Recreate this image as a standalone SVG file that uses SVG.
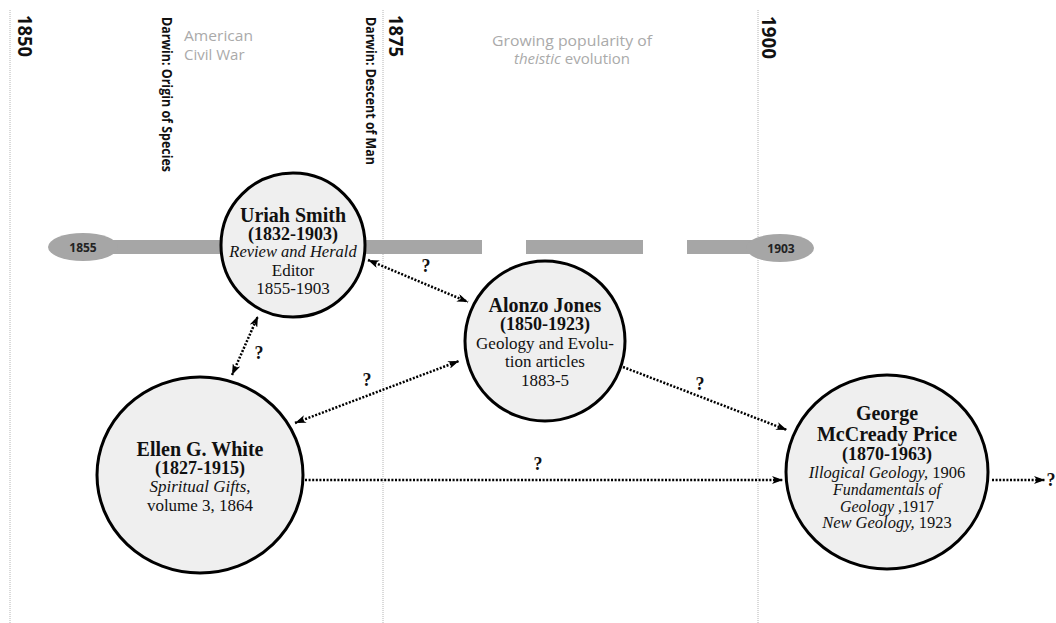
<svg xmlns="http://www.w3.org/2000/svg" width="1056" height="623" viewBox="0 0 1056 623">
<style>
.grid{stroke:#b4b4b4;stroke-width:1;stroke-dasharray:1 1;fill:none}
.yr{font-family:"Open Sans",Lato,"Liberation Sans",sans-serif;font-weight:bold;font-size:20px;fill:#111}
.dw{font-family:"Open Sans",Lato,"Liberation Sans",sans-serif;font-weight:bold;font-size:14px;fill:#111}
.era{font-family:"Open Sans",Lato,"Liberation Sans",sans-serif;font-size:15px;fill:#aaaaaa}
.bar{fill:#a6a6a6}
.tl{font-family:"Open Sans",Lato,"Liberation Sans",sans-serif;font-weight:bold;font-size:12px;fill:#222;text-anchor:middle}
.node{fill:#efefef;stroke:#000;stroke-width:3}
.t{font-family:"Liberation Serif",serif;fill:#111;text-anchor:middle;font-size:17px}
.b{font-weight:bold;font-size:18px}
.h{font-size:20px;font-weight:bold}
.i{font-style:italic}
.s{font-size:16.5px}
.c{stroke:#000;stroke-width:2.5;stroke-dasharray:2 1.6;fill:none}
.q{font-family:"Liberation Serif",serif;font-weight:bold;font-size:18px;fill:#111;text-anchor:middle}
</style>
<defs>
<marker id="ah" markerUnits="userSpaceOnUse" markerWidth="12" markerHeight="8" refX="11" refY="4" orient="auto-start-reverse" viewBox="0 0 12 8">
<path d="M0,0 L11,4 L0,8 L3,4 z" fill="#000"/>
</marker>
</defs>
<rect width="1056" height="623" fill="#fff"/>

<g id="grid">
<line class="grid" x1="10" y1="10" x2="10" y2="623"/>
<line class="grid" x1="383" y1="10" x2="383" y2="623"/>
<line class="grid" x1="758" y1="10" x2="758" y2="623"/>
<text class="yr" transform="translate(18,15) rotate(90)" textLength="42" lengthAdjust="spacingAndGlyphs">1850</text>
<text class="yr" transform="translate(389,15) rotate(90)" textLength="42" lengthAdjust="spacingAndGlyphs">1875</text>
<text class="yr" transform="translate(762,16) rotate(90)" textLength="43" lengthAdjust="spacingAndGlyphs">1900</text>
<text class="dw" transform="translate(162,17) rotate(90)" textLength="155" lengthAdjust="spacingAndGlyphs">Darwin:  Origin of Species</text>
<text class="dw" transform="translate(366,17) rotate(90)" textLength="148" lengthAdjust="spacingAndGlyphs">Darwin:  Descent of Man</text>
<text class="era" x="184" y="41" textLength="69" lengthAdjust="spacingAndGlyphs">American</text>
<text class="era" x="184" y="60">Civil War</text>
<text class="era" x="572" y="46" text-anchor="middle" textLength="160" lengthAdjust="spacingAndGlyphs">Growing popularity of</text>
<text class="era" x="572" y="64" text-anchor="middle"><tspan font-style="italic">theistic</tspan> evolution</text>
</g>

<g id="timeline">
<rect class="bar" x="83" y="240" width="399" height="14"/>
<rect class="bar" x="526" y="240" width="117" height="14"/>
<rect class="bar" x="687" y="240" width="93" height="14"/>
<ellipse class="bar" cx="83" cy="247" rx="35" ry="14"/>
<ellipse class="bar" cx="780" cy="248" rx="34" ry="14"/>
<text class="tl" x="83" y="252">1855</text>
<text class="tl" x="781" y="253">1903</text>
</g>

<g id="connectors">
<line class="c" x1="368" y1="260" x2="468" y2="302" marker-start="url(#ah)" marker-end="url(#ah)"/>
<line class="c" x1="232" y1="375" x2="258" y2="316" marker-start="url(#ah)" marker-end="url(#ah)"/>
<line class="c" x1="295" y1="423" x2="459" y2="361" marker-start="url(#ah)" marker-end="url(#ah)"/>
<line class="c" x1="623" y1="367" x2="787" y2="430" marker-end="url(#ah)"/>
<line class="c" x1="305" y1="480" x2="783" y2="480" marker-end="url(#ah)"/>
<line class="c" x1="992" y1="480" x2="1045" y2="480" marker-end="url(#ah)"/>
<text class="q" x="426" y="272">?</text>
<text class="q" x="259" y="359">?</text>
<text class="q" x="367" y="386">?</text>
<text class="q" x="700" y="390">?</text>
<text class="q" x="538" y="470">?</text>
<text class="q" x="1051" y="486">?</text>
</g>

<g id="uriah">
<circle class="node" cx="293" cy="245" r="72"/>
<text class="t h" x="293" y="222">Uriah Smith</text>
<text class="t b" x="293" y="240">(1832-1903)</text>
<text class="t i s" x="293" y="257">Review and Herald</text>
<text class="t" x="293" y="276">Editor</text>
<text class="t" x="293" y="294">1855-1903</text>
</g>

<g id="alonzo">
<circle class="node" cx="545" cy="341" r="80"/>
<text class="t h" x="545" y="312">Alonzo Jones</text>
<text class="t b" x="545" y="330">(1850-1923)</text>
<text class="t" x="545" y="349">Geology and Evolu-</text>
<text class="t" x="545" y="367">tion articles</text>
<text class="t" x="545" y="386">1883-5</text>
</g>

<g id="ellen">
<ellipse class="node" cx="200" cy="475" rx="103" ry="98"/>
<text class="t h" x="200" y="456">Ellen G. White</text>
<text class="t b" x="200" y="474">(1827-1915)</text>
<text class="t" x="200" y="492"><tspan font-style="italic">Spiritual Gifts</tspan>,</text>
<text class="t" x="200" y="511">volume 3, 1864</text>
</g>

<g id="price">
<ellipse class="node" cx="887" cy="472" rx="101" ry="97"/>
<text class="t h" x="887" y="420">George</text>
<text class="t h" x="887" y="441">McCready Price</text>
<text class="t b" x="887" y="460">(1870-1963)</text>
<text class="t s" x="887" y="478"><tspan font-style="italic">Illogical Geology,</tspan> 1906</text>
<text class="t i" x="887" y="495" style="font-size:16px">Fundamentals of</text>
<text class="t" x="887" y="512" style="font-size:16px"><tspan font-style="italic">Geology</tspan> ,1917</text>
<text class="t s" x="887" y="528"><tspan font-style="italic">New Geology,</tspan> 1923</text>
</g>
</svg>
